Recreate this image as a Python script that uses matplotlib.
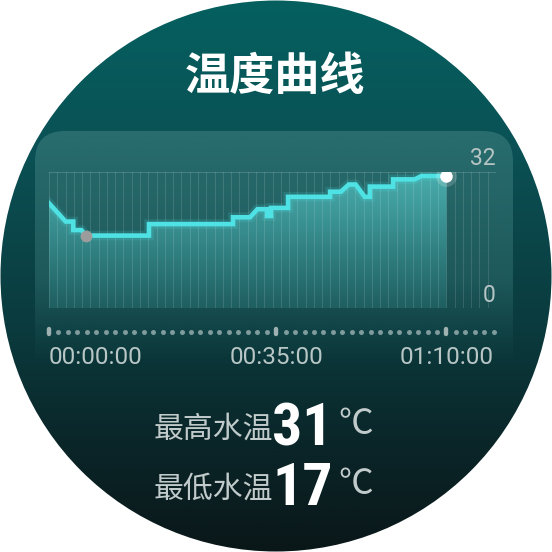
import numpy as np
import matplotlib
matplotlib.use("Agg")
import matplotlib.pyplot as plt
from matplotlib import font_manager
from matplotlib.colors import to_rgb
from matplotlib.patches import Circle, FancyBboxPatch, Polygon

# water temperature curve (minutes, degC)
times = [0, 2.94, 4.28, 4.28, 5.72, 6.46, 17.6, 17.6, 32.4, 32.4, 35.4, 36.7,
         38.4, 38.4, 39.1, 39.1, 42.1, 42.1, 49.5, 49.5, 51.4, 52.8, 54.0,
         55.6, 56.5, 56.5, 60.6, 60.6, 64.4, 65.6, 70.0]
temps = [24.6, 20.3, 20.3, 18.3, 18.3, 17.0, 17.0, 19.7, 19.7, 21.3, 21.3, 23.2,
         23.2, 21.6, 21.6, 23.5, 23.5, 26.1, 26.1, 27.3, 27.3, 29.0, 29.0,
         26.1, 26.1, 28.5, 28.5, 30.2, 30.2, 31.0, 31.0]
tick_pos = [0, 40, 70]
tick_labels = ["00:00:00", "00:35:00", "01:10:00"]
y_labels = [0, 32]
title = "温度曲线"
max_label, min_label = "最高水温", "最低水温"
max_val, min_val = 31, 17
unit = "℃"

cjk = ["Noto Sans CJK SC", "DejaVu Sans"]
names = {f.name for f in font_manager.fontManager.ttflist}
num_font = next((n for n in ["Roboto Condensed", "Liberation Sans Narrow", "Roboto"]
                 if n in names), "DejaVu Sans")
lab_font = "Roboto" if "Roboto" in names else "DejaVu Sans"

W = 552
fig = plt.figure(figsize=(5.52, 5.52), dpi=100)
fig.patch.set_facecolor("white")

# background: round watch face with vertical gradient
bg = fig.add_axes([0, 0, 1, 1])
bg.set_xlim(0, W)
bg.set_ylim(W, 0)
bg.axis("off")
stops = [(0.0, "#05605f"), (0.25, "#0a5256"), (0.6, "#0b3a3d"),
         (0.8, "#0a2629"), (1.0, "#0a1719")]
yy = np.linspace(0, 1, 300)
grad = np.zeros((300, 1, 3))
for c in range(3):
    grad[:, 0, c] = np.interp(yy, [s[0] for s in stops],
                              [to_rgb(s[1])[c] for s in stops])
face = Circle((276, 276), 275.5, transform=bg.transData, facecolor="none",
              edgecolor="none")
bg.add_patch(face)
im = bg.imshow(grad, extent=[0, W, W, 0], aspect="auto", interpolation="bilinear")
im.set_clip_path(face)

# translucent panel behind the chart, fading out downwards
panel = FancyBboxPatch((35, 131), 478, 260, boxstyle="round,pad=0,rounding_size=30",
                       transform=bg.transData, facecolor="none", edgecolor="none")
bg.add_patch(panel)
py = np.linspace(131, 391, 200)
alpha = np.interp(py, [131, 280, 330, 365], [0.63, 0.4, 0.14, 0.0])
pimg = np.zeros((200, 1, 4))
pimg[:, 0, :3] = to_rgb("#3c7d7d")
pimg[:, 0, 3] = alpha
pim = bg.imshow(pimg, extent=[35, 513, 391, 131], aspect="auto",
                interpolation="bilinear", zorder=2)
pim.set_clip_path(panel)
bg.set_xlim(0, W)
bg.set_ylim(W, 0)

bg.text(275, 77, title, ha="center", va="center", color="white",
        fontsize=32.5, fontweight="bold", family=cjk)

# chart
x0, x1, ytop, ybot = 49, 496, 171.7, 308
xmax = 70 * (x1 - x0) / (446.5 - x0)
ax = fig.add_axes([x0 / W, 1 - ybot / W, (x1 - x0) / W, (ybot - ytop) / W])
ax.set_xlim(0, xmax)
ax.set_ylim(0, 32)
ax.axis("off")
ax.patch.set_alpha(0)

for gx in np.linspace(0, xmax, 55):
    ax.plot([gx, gx], [0, 32], color="white", alpha=0.13, lw=0.7, zorder=3)
for gy in y_labels:
    ax.axhline(gy, color="white", alpha=0.15, lw=0.8, zorder=3)

verts = list(zip(times, temps)) + [(times[-1], 0), (times[0], 0)]
area = Polygon(verts, closed=True, facecolor="none", edgecolor="none")
ax.add_patch(area)
fy = np.linspace(1, 0, 200)
fimg = np.zeros((200, 1, 3))
top_c, bot_c = np.array(to_rgb("#4aafaf")), np.array(to_rgb("#1f5f61"))
for c in range(3):
    fimg[:, 0, c] = bot_c[c] + (top_c[c] - bot_c[c]) * fy
fim = ax.imshow(fimg, extent=[0, times[-1], 0, 32], aspect="auto",
                interpolation="bilinear", zorder=2)
fim.set_clip_path(area)
ax.set_xlim(0, xmax)
ax.set_ylim(0, 32)

ax.plot(times, temps, color="#4de4e6", lw=7, alpha=0.15, zorder=4,
        solid_joinstyle="miter")
ax.plot(times, temps, color="#4fe2e5", lw=3.3, zorder=5, solid_joinstyle="miter")

imin = int(np.argmin(temps))
ax.plot(times[imin], temps[imin], "o", color="#9c9c9c", ms=8.5, mec="none", zorder=6)
ax.plot(times[-1], temps[-1], "o", color="white", ms=15, alpha=0.18, mec="none",
        zorder=6)
ax.plot(times[-1], temps[-1], "o", color="white", ms=9, mec="none", zorder=7)

for v in y_labels:
    ax.text(xmax, v + 1.5, str(v), ha="right", va="baseline", color="#b6c4c4",
            fontsize=16.5, family=lab_font, clip_on=False)

# time track dots and labels
step = 70 / 42
for i in range(48):
    tx = i * step
    if any(abs(tx - p) < 1e-6 for p in tick_pos):
        ax.plot([tx, tx], [-5.0, -6.2], color="#9fb1b1", lw=3.2,
                solid_capstyle="round", clip_on=False, zorder=5)
    else:
        ax.plot(tx, -5.6, "o", color="#7f9b9c", ms=3.6, mec="none",
                clip_on=False, zorder=5)
for i, (p, lab) in enumerate(zip(tick_pos, tick_labels)):
    ax.text(p, -11.6, lab, ha="left" if i == 0 else "center", va="center",
            color="#b8c6c6", fontsize=17.5, family=lab_font, clip_on=False)

# max / min summary
for yc, lab, val in [(429, max_label, max_val), (489, min_label, min_val)]:
    bg.text(273, yc, lab, ha="right", va="center", color="#c2cbcb",
            fontsize=21.5, family=cjk)
    bg.text(302.5, yc + 16, str(val), ha="center", va="baseline", color="white",
            fontsize=43, fontweight="bold", family=[num_font, "DejaVu Sans"],
            fontstretch="condensed")
    bg.text(338, yc - 4, unit, ha="left", va="center", color="#c2cbcb",
            fontsize=25, family=cjk)

fig.savefig("out.png", dpi=100)
